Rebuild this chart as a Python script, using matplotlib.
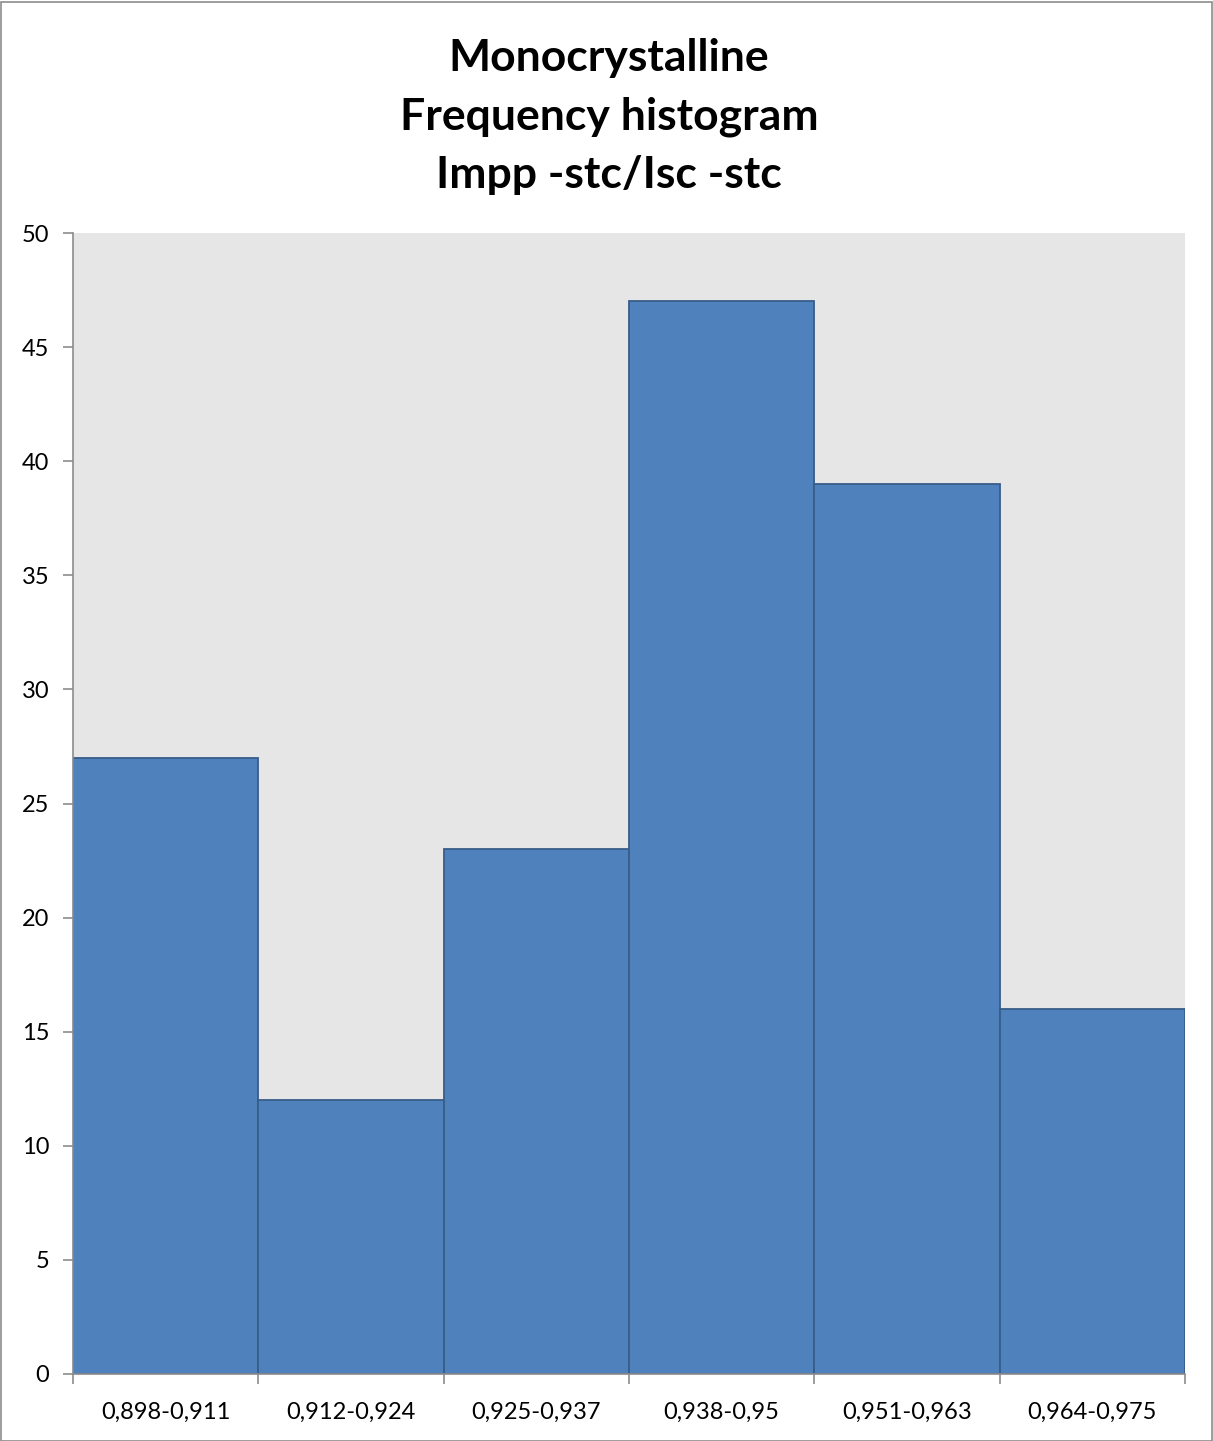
import matplotlib
matplotlib.use("Agg")
import matplotlib.pyplot as plt
from matplotlib.patches import Rectangle

categories = ["0,898-0,911", "0,912-0,924", "0,925-0,937", "0,938-0,95", "0,951-0,963", "0,964-0,975"]
counts = [27, 12, 23, 47, 39, 16]
title_lines = ["Monocrystalline", "Frequency histogram", "Impp -stc/Isc -stc"]

plt.rcParams['font.family'] = ['Lato', 'DejaVu Sans']

W, H = 1213, 1441
fig = plt.figure(figsize=(W/100, H/100), dpi=100)
fig.patches.append(Rectangle((0.5/W, 0.5/H), 1-2/W, 1-2/H, transform=fig.transFigure,
                             fill=False, edgecolor="#8c8c8c", linewidth=1.2))

ax = fig.add_axes([73/W, 1-1374/H, (1185-73)/W, (1374-233)/H])
ax.set_facecolor("#e6e6e6")
x = list(range(len(categories)))
ax.bar(x, counts, width=1.0, align='center', color="#4f81bd", edgecolor="#385d8a", linewidth=1.3, zorder=2)
ax.set_xlim(-0.5, len(categories)-0.5)
ax.set_ylim(0, 50)
ax.set_yticks(range(0, 51, 5))
ax.set_xticks(x)
ax.set_xticklabels(categories, fontsize=17)
ax.set_xticks([i-0.5 for i in range(len(categories)+1)], minor=True)
ax.tick_params(axis='x', which='major', length=0, pad=20)
ax.tick_params(axis='x', which='minor', length=7, color="#8c8c8c", width=1.2)
ax.tick_params(axis='y', length=7, color="#8c8c8c", width=1.2, labelsize=17, pad=10)
for s in ['top', 'right']:
    ax.spines[s].set_visible(False)
for s in ['left', 'bottom']:
    ax.spines[s].set_color("#8c8c8c")
    ax.spines[s].set_linewidth(1.2)

for i, line in enumerate(title_lines):
    fig.text(609/W, 1-(58+58.5*i)/H, line, ha='center', va='center', fontsize=32, fontweight='bold')

fig.savefig("out.png", dpi=100)
